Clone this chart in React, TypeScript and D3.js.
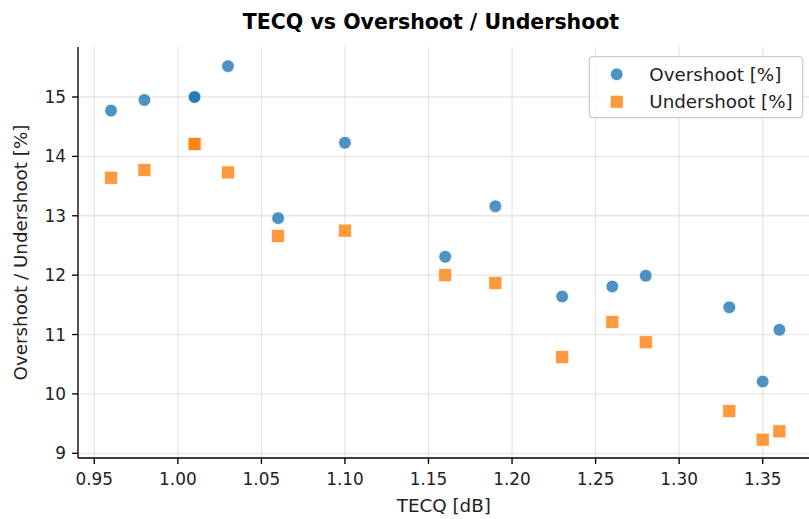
import React from "react";
import * as d3 from "d3";

const tecq = [0.96, 0.98, 1.01, 1.01, 1.03, 1.06, 1.10, 1.16, 1.19, 1.23, 1.26, 1.28, 1.33, 1.35, 1.36];
const overshoot = [14.77, 14.95, 15.0, 15.0, 15.52, 12.96, 14.23, 12.31, 13.16, 11.64, 11.81, 11.99, 11.46, 10.21, 11.08];
const undershoot = [13.64, 13.77, 14.21, 14.21, 13.73, 12.66, 12.75, 12.0, 11.87, 10.62, 11.21, 10.87, 9.71, 9.23, 9.37];
const xTicks = [0.95, 1.0, 1.05, 1.1, 1.15, 1.2, 1.25, 1.3, 1.35];
const yTicks = [9, 10, 11, 12, 13, 14, 15];

const W = 809, H = 519;
const left = 78, right = 813, top = 47, bottom = 458;
const FONT = "DejaVu Sans, sans-serif";
const BLUE = "#1f77b4";
const ORANGE = "#ff7f0e";

export default function App() {
  const x = d3.scaleLinear().domain([0.95, 1.35]).range([94.3, 762.7]);
  const y = d3.scaleLinear().domain([9, 15]).range([453.3, 97]);

  return (
    <svg width={W} height={H} style={{ position: "absolute", left: 0, top: 0, background: "#fff" }} fontFamily={FONT}>
      <rect width={W} height={H} fill="#fff" />
      {/* grid */}
      {xTicks.map((t) => (
        <line key={"gx" + t} x1={x(t)} x2={x(t)} y1={top} y2={bottom} stroke="#b0b0b0" strokeOpacity={0.3} strokeWidth={1.3} />
      ))}
      {yTicks.map((t) => (
        <line key={"gy" + t} x1={left} x2={right} y1={y(t)} y2={y(t)} stroke="#b0b0b0" strokeOpacity={0.3} strokeWidth={1.3} />
      ))}
      {/* points */}
      {tecq.map((t, i) => (
        <circle key={"o" + i} cx={x(t)} cy={y(overshoot[i])} r={6.3} fill={BLUE} fillOpacity={0.8} stroke="#fff" strokeOpacity={0.8} strokeWidth={0.8} />
      ))}
      {tecq.map((t, i) => (
        <rect key={"u" + i} x={x(t) - 6.5} y={y(undershoot[i]) - 6.5} width={13} height={13} fill={ORANGE} fillOpacity={0.8} stroke="#fff" strokeOpacity={0.8} strokeWidth={0.8} />
      ))}
      {/* spines */}
      <line x1={left} x2={left} y1={top} y2={bottom} stroke="#000" strokeWidth={1.35} />
      <line x1={left} x2={right} y1={bottom} y2={bottom} stroke="#000" strokeWidth={1.35} />
      {/* ticks */}
      {xTicks.map((t) => (
        <g key={"tx" + t}>
          <line x1={x(t)} x2={x(t)} y1={bottom} y2={bottom + 5.9} stroke="#000" strokeWidth={1.35} />
          <text x={x(t)} y={484.5} textAnchor="middle" fontSize={16.9} fill="#222">{t.toFixed(2)}</text>
        </g>
      ))}
      {yTicks.map((t) => (
        <g key={"ty" + t}>
          <line x1={left - 5.9} x2={left} y1={y(t)} y2={y(t)} stroke="#000" strokeWidth={1.35} />
          <text x={left - 12} y={y(t)} dy="0.36em" textAnchor="end" fontSize={16.9} fill="#222">{t}</text>
        </g>
      ))}
      {/* labels */}
      <text x={443.8} y={512} textAnchor="middle" fontSize={18.3} fill="#222">TECQ [dB]</text>
      <text transform={`translate(27, ${(top + bottom) / 2}) rotate(-90)`} textAnchor="middle" fontSize={18.3} fill="#222">Overshoot / Undershoot [%]</text>
      <text x={431} y={29} textAnchor="middle" fontSize={20.5} fontWeight="bold" fill="#000">TECQ vs Overshoot / Undershoot</text>
      {/* legend */}
      <rect x={589.3} y={56.7} width={213.4} height={61} rx={3.5} fill="#fff" fillOpacity={0.8} stroke="#cccccc" strokeWidth={1.3} />
      <circle cx={616.7} cy={74.3} r={6.3} fill={BLUE} fillOpacity={0.8} stroke="#fff" strokeWidth={0.8} />
      <text x={649.3} y={74.3} dy="0.36em" fontSize={18.3} fill="#222">Overshoot [%]</text>
      <rect x={616.7 - 6.5} y={101.7 - 6.5} width={13} height={13} fill={ORANGE} fillOpacity={0.8} stroke="#fff" strokeWidth={0.8} />
      <text x={649.3} y={101.7} dy="0.36em" fontSize={18.3} fill="#222">Undershoot [%]</text>
    </svg>
  );
}
